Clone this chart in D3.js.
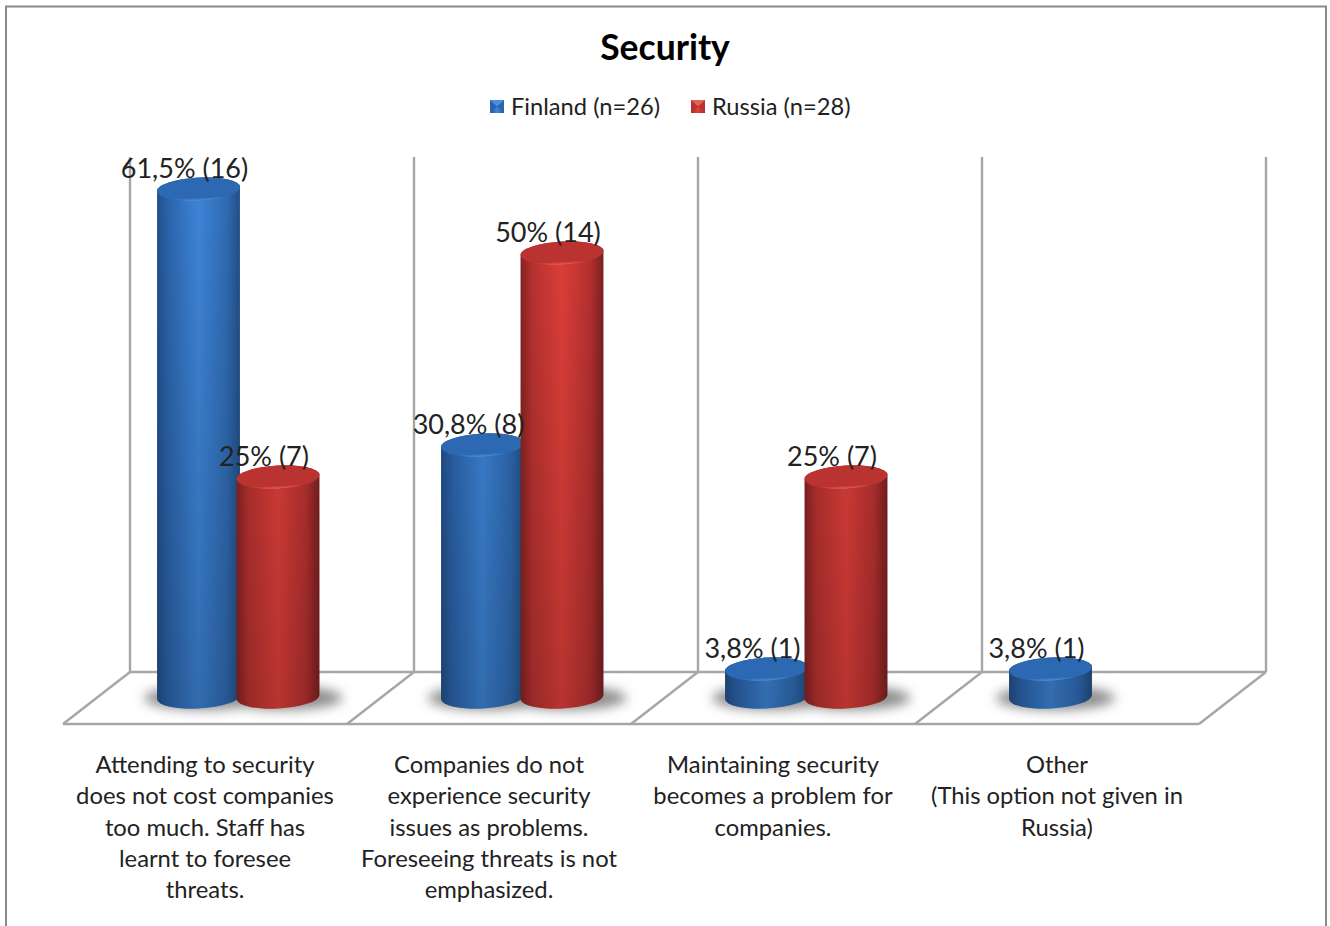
<!DOCTYPE html>
<html><head><meta charset="utf-8">
<script src="https://cdn.jsdelivr.net/npm/d3@7"></script>
<style>html,body{margin:0;padding:0;background:#fff;overflow:hidden}svg{display:block}text{font-family:Lato,"Noto Sans",sans-serif;fill:#222}</style>
</head><body><svg id="c" width="1330" height="926"></svg>
<script>
const title = "Security";
const seriesNames = ["Finland (n=26)", "Russia (n=28)"];
const categories = [
  ["Attending to security","does not cost companies","too much. Staff has","learnt to foresee","threats."],
  ["Companies do not","experience security","issues as problems.","Foreseeing threats is not","emphasized."],
  ["Maintaining security","becomes a problem for","companies."],
  ["Other","(This option not given in","Russia)"]
];
const finlandCounts = [16, 8, 1, 1];
const russiaCounts = [7, 14, 7, null];
const finlandLabels = ["61,5% (16)", "30,8% (8)", "3,8% (1)", "3,8% (1)"];
const russiaLabels = ["25% (7)", "50% (14)", "25% (7)", null];

const W = 1330, H = 926;
const svg = d3.select("#c");
const defs = svg.append("defs");
const idx = d3.range(categories.length);

const y = d3.scaleLinear().domain([0, 17]).range([701, 157]);
const xBack = d3.scaleBand().domain(idx).range([130, 1266]);
const xFront = d3.scaleBand().domain(idx).range([63, 1199]);
const xSeries = d3.scaleOrdinal().domain([0, 1]).range([68.5, 148]);
const rx = 41.5, ry = 11.5, tilt = 3, baseY = 697;
const dx = rx * Math.cos(tilt * Math.PI / 180), dy = rx * Math.sin(tilt * Math.PI / 180);

const pal = [
  {id:"b", stops:["#234f88","#2b64ac","#3d84d6","#2f6ab2","#224f84"], top:"#2d69b2", rim:"#4b90de"},
  {id:"r", stops:["#842322","#b83230","#e03f3a","#b63130","#7c2020"], top:"#bb3331", rim:"#e4605a"}
];
pal.forEach(p => {
  const g = defs.append("linearGradient").attr("id", "body" + p.id);
  [0, .14, .5, .84, 1].forEach((o, i) => g.append("stop").attr("offset", o).attr("stop-color", p.stops[i]));
  const t = defs.append("linearGradient").attr("id", "cap" + p.id).attr("x1",0).attr("x2",0).attr("y1",0).attr("y2",1);
  t.append("stop").attr("offset", 0).attr("stop-color", p.top);
  t.append("stop").attr("offset", .88).attr("stop-color", p.top);
  t.append("stop").attr("offset", 1).attr("stop-color", p.rim);
});
const dk = defs.append("linearGradient").attr("id","fade").attr("gradientUnits","userSpaceOnUse")
  .attr("x1",0).attr("x2",0).attr("y1",200).attr("y2",710);
dk.append("stop").attr("offset",0).attr("stop-color","#000").attr("stop-opacity",0);
dk.append("stop").attr("offset",1).attr("stop-color","#000").attr("stop-opacity",.18);
defs.append("filter").attr("id","blur").attr("x","-30%").attr("y","-60%").attr("width","160%").attr("height","220%")
  .append("feGaussianBlur").attr("stdDeviation",6);

// frame
svg.append("path").attr("d",`M6 ${H}V6.5H1326V${H}`).attr("fill","none").attr("stroke","#8a8a8a").attr("stroke-width",2);

// title and legend
svg.append("text").attr("x",665).attr("y",60).attr("text-anchor","middle")
  .attr("font-size",35.5).attr("font-weight",700).style("fill","#000").text(title);
const legendX = [490, 691];
seriesNames.forEach((n, i) => {
  const g = svg.append("g").attr("transform",`translate(${legendX[i]},100)`);
  g.append("rect").attr("width",14).attr("height",13).attr("fill",pal[i].stops[1]);
  g.append("path").attr("d","M0 0H14L7 6.5Z").attr("fill",pal[i].rim);
  g.append("path").attr("d","M0 13H14L7 6.5Z").attr("fill",`url(#body${pal[i].id})`);
  g.append("text").attr("x",21).attr("y",15).attr("font-size",23.7).text(n);
});

// walls and floor
const grid = svg.append("g").attr("fill","none").attr("stroke","#a6a6a6").attr("stroke-width",2.4);
const backTicks = idx.map(i => xBack(i)).concat(xBack.range()[1]);
const frontTicks = idx.map(i => xFront(i)).concat(xFront.range()[1]);
const floorBack = 672, floorFront = 724;
grid.selectAll("line.w").data(backTicks).join("line").attr("class","w")
  .attr("x1",d=>d).attr("x2",d=>d).attr("y1",y(17)).attr("y2",floorBack);
grid.append("line").attr("x1",backTicks[0]).attr("x2",backTicks[4]).attr("y1",floorBack).attr("y2",floorBack);
grid.append("line").attr("x1",frontTicks[0]).attr("x2",frontTicks[4]).attr("y1",floorFront).attr("y2",floorFront);
grid.selectAll("line.d").data(backTicks).join("line").attr("class","d")
  .attr("x1",d=>d).attr("x2",(d,i)=>frontTicks[i]).attr("y1",floorBack).attr("y2",floorFront);

// cylinders
const rows = [];
idx.forEach(i => {
  [finlandCounts[i], russiaCounts[i]].forEach((v, s) => {
    if (v == null) return;
    rows.push({i, s, v, cx: xBack(i) + xSeries(s)});
  });
});
const shadows = svg.append("g").attr("filter","url(#blur)");
rows.forEach(r => shadows.append("ellipse")
  .attr("cx", r.cx + 5).attr("cy", baseY + 1).attr("rx", rx + 18).attr("ry", 12)
  .attr("fill","#8c8c8c"));
const bars = svg.append("g");
rows.forEach(r => {
  const p = pal[r.s], top = y(r.v), L = r.cx - dx, R = r.cx + dx;
  const d = `M${L} ${top + dy}A${rx} ${ry} ${-tilt} 0 1 ${R} ${top - dy}`
    + `L${R} ${baseY - dy}A${rx} ${ry} ${-tilt} 0 1 ${L} ${baseY + dy}Z`;
  bars.append("path").attr("d", d).attr("fill", `url(#body${p.id})`);
  bars.append("path").attr("d", d).attr("fill", "url(#fade)");
  bars.append("ellipse").attr("cx", r.cx).attr("cy", top).attr("rx", rx).attr("ry", ry)
    .attr("transform", `rotate(${-tilt} ${r.cx} ${top})`).attr("fill", `url(#cap${p.id})`);
});

// data labels
const labels = svg.append("g");
rows.forEach(r => {
  const t = r.s ? russiaLabels[r.i] : finlandLabels[r.i];
  labels.append("text").attr("x", r.cx - 14).attr("y", y(r.v) - 11)
    .attr("text-anchor","middle").attr("font-size",27).text(t);
});

// category labels
categories.forEach((lines, i) => {
  const g = svg.append("g");
  lines.forEach((l, k) => g.append("text")
    .attr("x", xFront(i) + xFront.bandwidth() / 2)
    .attr("y", 773 + k * 31.3).attr("text-anchor","middle").attr("font-size",23.8).text(l));
});
</script></body></html>
